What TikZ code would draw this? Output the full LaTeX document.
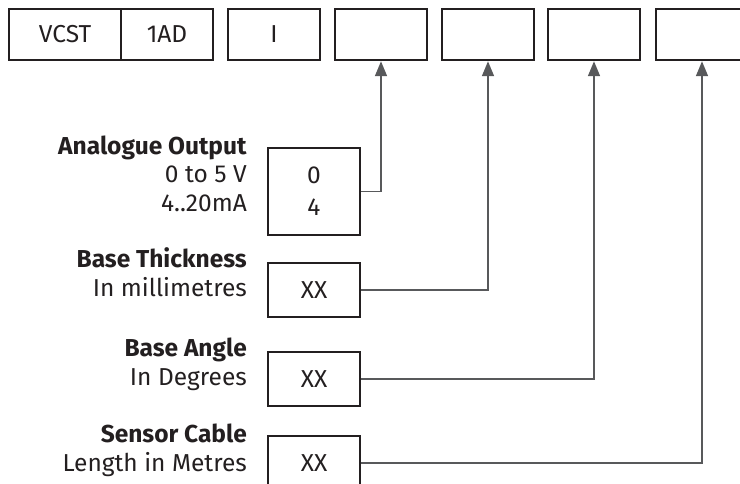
\documentclass[tikz,border=0pt]{standalone}
\usepackage{fontspec}
\setmainfont{Fira Sans}
\usetikzlibrary{positioning,arrows.meta}
\definecolor{boxcol}{HTML}{231F20}
\definecolor{linecol}{HTML}{58595B}

\begin{document}
\begin{tikzpicture}[x=1pt,y=-1pt,
  codebox/.style={draw=boxcol,line width=2.5pt,minimum width=92pt,minimum height=51pt,inner sep=0pt,text=boxcol,font=\fontsize{24.5}{32}\selectfont},
  optbox/.style={codebox,minimum height=54pt},
  lbl/.style={anchor=base east,align=right,inner sep=0pt,text=boxcol,font=\fontsize{24.5}{29}\selectfont},
  conn/.style={draw=linecol,line width=1.7pt,-{Triangle[length=15pt,width=12pt]}}]
   \useasboundingbox (0,0) rectangle (740,484);
   % part number boxes
   \node[codebox,minimum width=112pt] (vcst) at (65,34.5) {VCST};
   \node[codebox] (ad) at (167,34.5) {1AD};
   \node[codebox] (ins) at (274,34.5) {I};
   \node[codebox] (f4) at (381,34.5) {};
   \node[codebox] (f5) at (488,34.5) {};
   \node[codebox] (f6) at (594,34.5) {};
   \node[codebox] (f7) at (702,34.5) {};
   % option boxes
   \node[optbox,minimum height=87pt,align=center] (aout) at (314,191.5) {0\\4};
   \node[optbox] (thick) at (314,290) {XX};
   \node[optbox] (angle) at (314,379) {XX};
   \node[optbox] (cable) at (314,463) {XX};
   % labels (anchored on the last line)
   \node[lbl] (aoutlbl) at (247,212) {\textbf{Analogue Output}\\0 to 5 V\\4..20mA};
   \node[lbl] (thicklbl) at (247,297) {\textbf{Base Thickness}\\In millimetres};
   \node[lbl] (anglelbl) at (247,385) {\textbf{Base Angle}\\In Degrees};
   \node[lbl] (cablelbl) at (247,471) {\textbf{Sensor Cable}\\Length in Metres};
   % connectors
   \draw[conn] (aout.east) -| (f4.south);
   \draw[conn] (thick.east) -| (f5.south);
   \draw[conn] (angle.east) -| (f6.south);
   \draw[conn] (cable.east) -| (f7.south);
\end{tikzpicture}
\end{document}
